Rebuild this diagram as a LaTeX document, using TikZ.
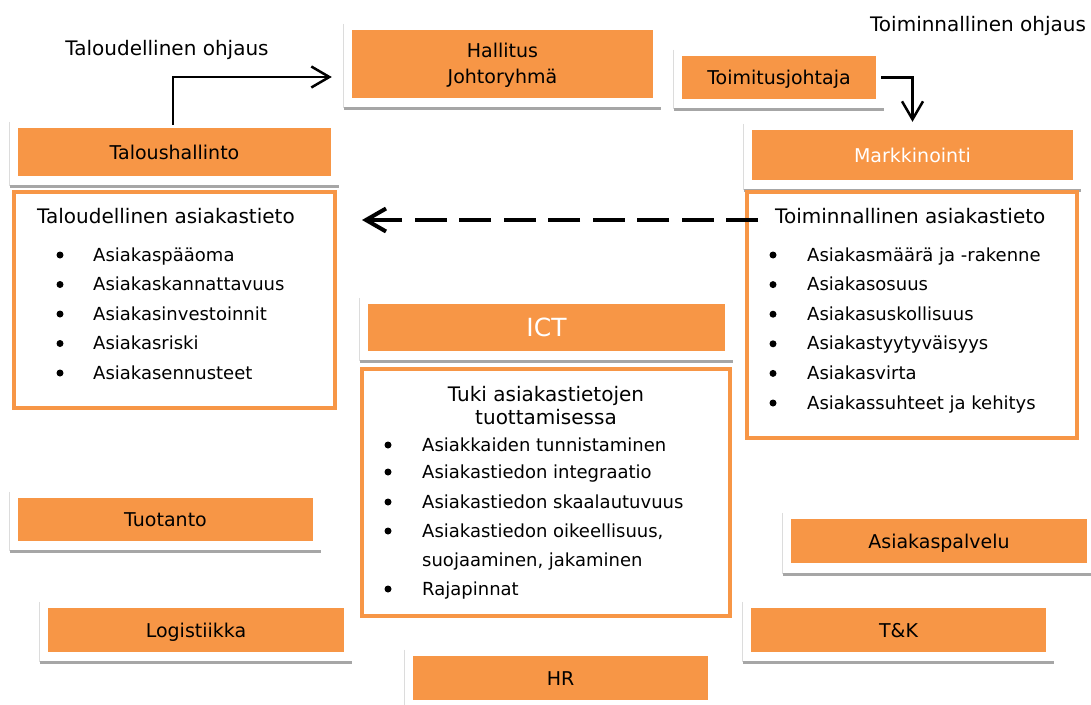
\documentclass[tikz,border=0pt]{standalone}
\usepackage{fontspec}
\setmainfont{DejaVu Sans}
\usetikzlibrary{arrows.meta,calc}
\definecolor{org}{HTML}{F79646}
\definecolor{shad}{HTML}{A6A6A6}
\definecolor{edgeg}{HTML}{DCDCDC}
\begin{document}
\begin{tikzpicture}[x=1pt,y=-1pt,
  obox/.style={fill=org,draw=none,inner sep=0pt,font=\fontsize{19}{23}\selectfont,text height=14pt,text depth=0pt},
  frm/.style={draw=org,line width=4.5pt,fill=white,inner sep=0pt},
  item/.style={anchor=base west,inner sep=0pt,font=\fontsize{18}{22}\selectfont},
  ttl/.style={inner sep=0pt,font=\fontsize{20}{24}\selectfont},
  dot/.style={circle,fill=black,inner sep=0pt,minimum size=7pt},
  shadowline/.style={draw=shad,line width=3pt},
  edgeline/.style={draw=edgeg,line width=1pt},
  arr/.style={draw=black,line width=2.5pt,-{Straight Barb[length=18pt,width=21pt]}},
]
\useasboundingbox (0,0) rectangle (1091,704);
% panels (drawn first)
\newcommand{\panelof}[1]{%
  \draw[edgeline] ([xshift=-8pt,yshift=6pt]#1.north west) -- ([xshift=-8pt,yshift=-10pt]#1.south west);
  \draw[shadowline] ([xshift=-8pt,yshift=-10pt]#1.south west) -- ([xshift=8pt,yshift=-10pt]#1.south east);}
% orange boxes
\node[obox,minimum width=313pt,minimum height=48pt] (tal) at (174.5,152) {Taloushallinto};
\node[obox,minimum width=301pt,minimum height=68pt] (hal) at (502.5,64) {};
\node[obox,minimum width=194pt,minimum height=43pt] (toim) at (779,77.5) {Toimitusjohtaja};
\node[obox,minimum width=321pt,minimum height=50pt,text=white] (mark) at (912.5,155) {Markkinointi};
\node[obox,minimum width=357pt,minimum height=47pt,text=white,font=\fontsize{25}{30}\selectfont,text height=18pt] (ict) at (546.5,327.5) {ICT};
\node[obox,minimum width=295pt,minimum height=43pt] (tuo) at (165.5,519.5) {Tuotanto};
\node[obox,minimum width=296pt,minimum height=44pt] (log) at (196,630) {Logistiikka};
\node[obox,minimum width=295pt,minimum height=44pt] (hr) at (560.5,678) {HR};
\node[obox,minimum width=296pt,minimum height=44pt] (asp) at (939,541) {Asiakaspalvelu};
\node[obox,minimum width=295pt,minimum height=44pt] (tk) at (898.5,630) {T\&K};
\panelof{tal}\panelof{hal}\panelof{toim}\panelof{mark}\panelof{ict}
\panelof{tuo}\panelof{log}\panelof{hr}\panelof{tk}
\draw[edgeline] ([xshift=-8pt,yshift=6pt]asp.north west) -- ([xshift=-8pt,yshift=-11pt]asp.south west);
\draw[shadowline] ([xshift=-8pt,yshift=-11pt]asp.south west) -- ([yshift=-11pt]asp.south east -| 1091,0);
% Hallitus labels
\node[ttl,anchor=base,font=\fontsize{19}{23}\selectfont] (hal1) at (502.5,57) {Hallitus};
\node[ttl,anchor=base,font=\fontsize{19}{23}\selectfont] (hal2) at (502.5,83) {Johtoryhmä};
% frames
\node[frm,minimum width=321pt,minimum height=216pt] (fl) at (174.5,300) {};
\node[frm,minimum width=330pt,minimum height=246pt] (fr) at (912,315) {};
\node[frm,minimum width=368pt,minimum height=247pt] (ft) at (546,492.5) {};
% free labels
\node[ttl,anchor=base] (lab1) at (167,55) {Taloudellinen ohjaus};
\node[ttl,anchor=base] (lab2) at (978,31) {Toiminnallinen ohjaus};
% left list
\node[ttl,anchor=base west] (tl) at (37,223) {Taloudellinen asiakastieto};
\foreach \t [count=\i] in {Asiakaspääoma,Asiakaskannattavuus,Asiakasinvestoinnit,Asiakasriski,Asiakasennusteet}{
  \node[item] (L\i) at (93,{231.5+29.5*\i}) {\t};
  \node[dot] (LB\i) at (60,{225.5+29.5*\i}) {};
}
% right list
\node[ttl,anchor=base west] (tr) at (775,223) {Toiminnallinen asiakastieto};
\foreach \t [count=\i] in {Asiakasmäärä ja -rakenne,Asiakasosuus,Asiakasuskollisuus,Asiakastyytyväisyys,Asiakasvirta,Asiakassuhteet ja kehitys}{
  \node[item] (R\i) at (807,{231.4+29.6*\i}) {\t};
  \node[dot] (RB\i) at (773,{225.4+29.6*\i}) {};
}
% tuki list
\node[ttl,anchor=base] (tt1) at (546,401) {Tuki asiakastietojen};
\node[ttl,anchor=base] (tt2) at (546,424) {tuottamisessa};
\node[item] (T1) at (422,451) {Asiakkaiden tunnistaminen};
\node[item] (T2) at (422,478) {Asiakastiedon integraatio};
\node[item] (T3) at (422,508) {Asiakastiedon skaalautuvuus};
\node[item] (T4) at (422,537) {Asiakastiedon oikeellisuus,};
\node[item] (T5) at (422,566) {suojaaminen, jakaminen};
\node[item] (T6) at (422,595) {Rajapinnat};
\node[dot] (TB1) at (388,445) {};
\node[dot] (TB2) at (388,472) {};
\node[dot] (TB3) at (388,502) {};
\node[dot] (TB4) at (388,531) {};
\node[dot] (TB6) at (388,589) {};
% connectors
\draw[arr] ([xshift=-1.5pt,yshift=3pt]tal.north) |- ([xshift=-20pt,yshift=-13pt]hal.west);
\draw[arr] ([xshift=5pt]toim.east) -| ([yshift=8pt]mark.north);
\coordinate (dS) at (758,220);
\coordinate (dE) at (362,220);
\draw[draw=black,line width=4pt,dash pattern=on 32pt off 12.5pt,-{Straight Barb[length=20pt,width=23pt]}] (dS) -- (dE);
\end{tikzpicture}
\end{document}
